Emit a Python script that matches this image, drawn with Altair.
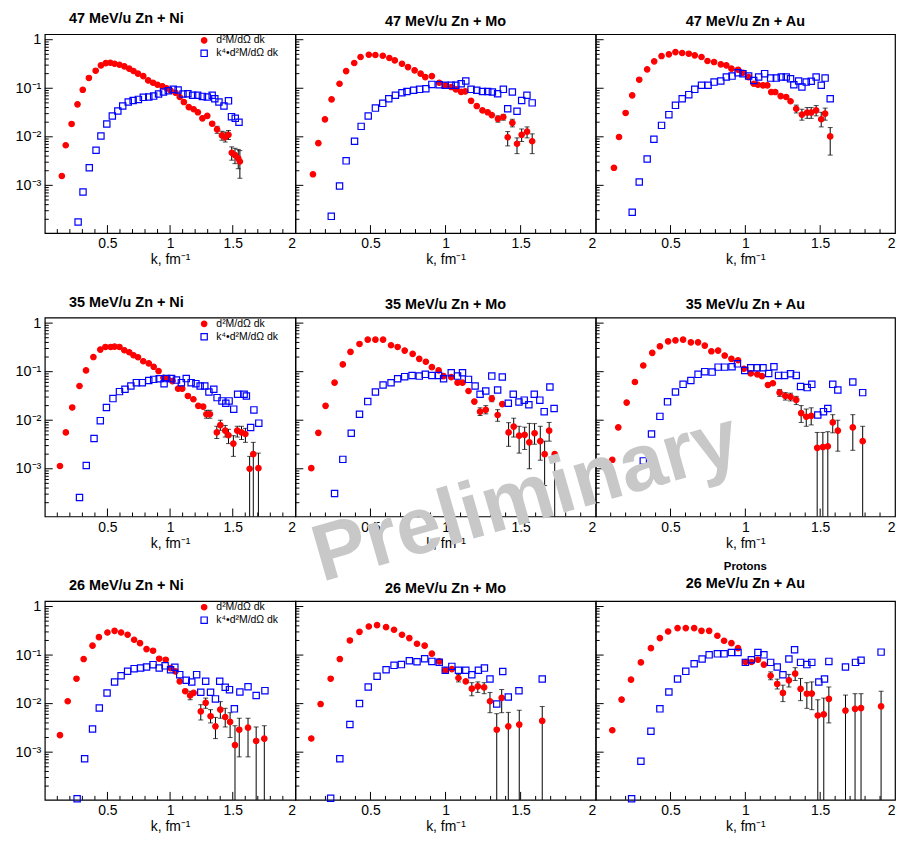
import altair as alt
import pandas as pd

FONT = "Liberation Sans"

# ---------------- data ----------------
SERIES = ["d²M/dΩ dk", "k⁴•d²M/dΩ dk"]
TITLES = ["47 MeV/u Zn + Ni", "47 MeV/u Zn + Mo", "47 MeV/u Zn + Au",
          "35 MeV/u Zn + Ni", "35 MeV/u Zn + Mo", "35 MeV/u Zn + Au",
          "26 MeV/u Zn + Ni", "26 MeV/u Zn + Mo", "26 MeV/u Zn + Au"]
X_LABELS = [0.5, 1, 1.5, 2]
Y_LABELS = [1, 0.1, 0.01, 0.001]
Y_LABEL_TEXT = ["1", "10⁻¹", "10⁻²", "10⁻³"]

# 47 MeV/u Zn + Ni
zn47ni_k_red = [0.136, 0.167, 0.214, 0.261, 0.303, 0.352, 0.406, 0.448, 0.487, 0.523, 0.557, 0.596, 0.635, 0.674, 0.708, 0.744, 0.786, 0.825, 0.864, 0.900, 0.939, 0.973, 1.004, 1.043, 1.077, 1.110, 1.149, 1.188, 1.222, 1.258, 1.297, 1.336, 1.375, 1.414, 1.440, 1.466, 1.492, 1.518, 1.544, 1.557]
zn47ni_red = [0.00156, 0.0067, 0.0184, 0.0467, 0.093, 0.163, 0.23, 0.296, 0.33, 0.335, 0.32, 0.305, 0.283, 0.253, 0.227, 0.2, 0.178, 0.145, 0.13, 0.118, 0.11, 0.1, 0.09, 0.081, 0.066, 0.052, 0.041, 0.037, 0.032, 0.024, 0.027, 0.0186, 0.0142, 0.0107, 0.0098, 0.011, 0.0047, 0.0042, 0.0036, 0.0031]
zn47ni_k_blue = [0.266, 0.305, 0.355, 0.409, 0.448, 0.495, 0.539, 0.583, 0.622, 0.666, 0.705, 0.747, 0.786, 0.830, 0.869, 0.908, 0.947, 0.986, 1.025, 1.064, 1.103, 1.142, 1.180, 1.220, 1.258, 1.297, 1.336, 1.357, 1.390, 1.430, 1.466, 1.490, 1.520, 1.550]
zn47ni_blue = [0.000176, 0.00073, 0.0023, 0.0053, 0.0104, 0.0184, 0.0268, 0.034, 0.043, 0.052, 0.056, 0.059, 0.065, 0.066, 0.069, 0.076, 0.084, 0.089, 0.095, 0.092, 0.076, 0.077, 0.072, 0.072, 0.068, 0.066, 0.072, 0.061, 0.052, 0.043, 0.055, 0.026, 0.024, 0.020]
zn47ni_err_k = [1.375, 1.414, 1.440, 1.466, 1.492, 1.518, 1.544, 1.557]
zn47ni_err_lo = [0.0118, 0.0085, 0.0078, 0.0088, 0.0033, 0.0028, 0.0022, 0.0014]
zn47ni_err_hi = [0.0165, 0.0130, 0.0125, 0.0135, 0.0062, 0.0058, 0.0055, 0.0052]

# 47 MeV/u Zn + Mo
zn47mo_k_red = [0.117, 0.153, 0.197, 0.241, 0.294, 0.338, 0.392, 0.434, 0.489, 0.533, 0.582, 0.626, 0.662, 0.710, 0.750, 0.794, 0.834, 0.865, 0.909, 0.958, 0.998, 1.038, 1.069, 1.104, 1.131, 1.170, 1.208, 1.246, 1.281, 1.308, 1.349, 1.385, 1.414, 1.445, 1.476, 1.507, 1.543, 1.577]
zn47mo_red = [0.00169, 0.0074, 0.0229, 0.059, 0.124, 0.226, 0.331, 0.44, 0.49, 0.484, 0.468, 0.42, 0.375, 0.32, 0.273, 0.234, 0.2, 0.17, 0.178, 0.13, 0.115, 0.106, 0.095, 0.084, 0.086, 0.055, 0.043, 0.035, 0.032, 0.028, 0.0235, 0.0256, 0.0098, 0.0194, 0.0072, 0.011, 0.0128, 0.0081]
zn47mo_k_blue = [0.239, 0.294, 0.338, 0.394, 0.438, 0.485, 0.533, 0.582, 0.622, 0.666, 0.710, 0.743, 0.788, 0.827, 0.869, 0.909, 0.958, 0.998, 1.038, 1.069, 1.104, 1.135, 1.170, 1.208, 1.246, 1.281, 1.312, 1.347, 1.385, 1.414, 1.445, 1.476, 1.507, 1.542, 1.577]
zn47mo_blue = [0.00023, 0.00097, 0.0032, 0.0081, 0.0164, 0.0268, 0.039, 0.0489, 0.061, 0.0716, 0.081, 0.086, 0.091, 0.095, 0.098, 0.12, 0.118, 0.115, 0.115, 0.115, 0.124, 0.141, 0.095, 0.091, 0.086, 0.086, 0.0836, 0.0773, 0.095, 0.0378, 0.0836, 0.0335, 0.056, 0.0716, 0.05]
zn47mo_err_k = [1.349, 1.385, 1.414, 1.445, 1.476, 1.507, 1.543, 1.577]
zn47mo_err_lo = [0.020, 0.022, 0.0065, 0.016, 0.0045, 0.008, 0.0095, 0.0045]
zn47mo_err_hi = [0.027, 0.029, 0.0128, 0.023, 0.0095, 0.0145, 0.016, 0.0115]

# 47 MeV/u Zn + Au
zn47au_k_red = [0.122, 0.156, 0.200, 0.244, 0.291, 0.344, 0.391, 0.440, 0.489, 0.533, 0.578, 0.622, 0.662, 0.707, 0.747, 0.791, 0.836, 0.873, 0.907, 0.951, 0.984, 1.022, 1.056, 1.084, 1.118, 1.147, 1.173, 1.200, 1.236, 1.273, 1.302, 1.340, 1.378, 1.413, 1.440, 1.473, 1.507, 1.533, 1.567]
zn47au_red = [0.0023, 0.0099, 0.031, 0.0714, 0.15, 0.245, 0.358, 0.461, 0.5, 0.557, 0.532, 0.515, 0.476, 0.44, 0.364, 0.347, 0.311, 0.297, 0.253, 0.241, 0.209, 0.17, 0.124, 0.118, 0.115, 0.115, 0.0836, 0.0836, 0.069, 0.066, 0.054, 0.0378, 0.0287, 0.0316, 0.0316, 0.035, 0.023, 0.03, 0.0102]
zn47au_k_blue = [0.244, 0.291, 0.344, 0.389, 0.440, 0.489, 0.533, 0.578, 0.622, 0.662, 0.707, 0.751, 0.791, 0.836, 0.873, 0.911, 0.951, 0.984, 1.022, 1.056, 1.089, 1.129, 1.169, 1.207, 1.240, 1.273, 1.302, 1.324, 1.356, 1.378, 1.407, 1.440, 1.473, 1.507, 1.533, 1.567]
zn47au_blue = [0.00028, 0.00117, 0.0035, 0.0089, 0.0172, 0.0286, 0.0445, 0.061, 0.0738, 0.095, 0.115, 0.115, 0.134, 0.141, 0.17, 0.178, 0.209, 0.2, 0.178, 0.145, 0.17, 0.2, 0.162, 0.162, 0.17, 0.17, 0.157, 0.118, 0.141, 0.106, 0.134, 0.139, 0.17, 0.115, 0.162, 0.061]
zn47au_err_k = [1.340, 1.378, 1.413, 1.440, 1.473, 1.507, 1.533, 1.567]
zn47au_err_lo = [0.031, 0.022, 0.024, 0.024, 0.027, 0.016, 0.022, 0.0042]
zn47au_err_hi = [0.045, 0.037, 0.040, 0.040, 0.044, 0.032, 0.039, 0.0155]

# 35 MeV/u Zn + Ni
zn35ni_k_red = [0.121, 0.168, 0.219, 0.277, 0.329, 0.388, 0.443, 0.484, 0.526, 0.557, 0.596, 0.635, 0.674, 0.708, 0.744, 0.786, 0.830, 0.869, 0.908, 0.947, 0.978, 1.019, 1.064, 1.097, 1.142, 1.186, 1.225, 1.264, 1.290, 1.318, 1.373, 1.401, 1.440, 1.466, 1.505, 1.536, 1.570, 1.601, 1.635, 1.664, 1.705]
zn35ni_red = [0.00114, 0.0056, 0.0183, 0.0507, 0.106, 0.2, 0.285, 0.323, 0.323, 0.328, 0.323, 0.276, 0.251, 0.218, 0.198, 0.164, 0.148, 0.126, 0.103, 0.075, 0.072, 0.064, 0.0446, 0.0446, 0.0316, 0.027, 0.0198, 0.019, 0.0133, 0.0133, 0.0056, 0.0079, 0.0061, 0.0049, 0.0033, 0.0061, 0.0056, 0.0052, 0.001, 0.002, 0.00103]
zn35ni_k_blue = [0.277, 0.331, 0.393, 0.443, 0.492, 0.544, 0.596, 0.640, 0.687, 0.731, 0.778, 0.830, 0.869, 0.913, 0.952, 0.973, 1.012, 1.051, 1.090, 1.129, 1.168, 1.206, 1.240, 1.277, 1.310, 1.349, 1.375, 1.414, 1.445, 1.471, 1.508, 1.539, 1.591, 1.609, 1.643, 1.669, 1.708]
zn35ni_blue = [0.000256, 0.00117, 0.0042, 0.0098, 0.0183, 0.0279, 0.0388, 0.0433, 0.0508, 0.0594, 0.0594, 0.066, 0.0694, 0.0717, 0.0566, 0.072, 0.072, 0.067, 0.0594, 0.072, 0.0594, 0.0566, 0.0508, 0.0508, 0.038, 0.0433, 0.0292, 0.025, 0.0223, 0.025, 0.0169, 0.0342, 0.0342, 0.0316, 0.0071, 0.0163, 0.0087]
zn35ni_err_k = [1.290, 1.318, 1.373, 1.401, 1.440, 1.466, 1.505, 1.536, 1.570, 1.601, 1.635, 1.664, 1.705]
zn35ni_err_lo = [0.011, 0.011, 0.0042, 0.0062, 0.0045, 0.0033, 0.0018, 0.0045, 0.004, 0.0035, 1e-5, 1e-5, 1e-5]
zn35ni_err_hi = [0.016, 0.016, 0.0075, 0.010, 0.0078, 0.0065, 0.0048, 0.0075, 0.0075, 0.0068, 0.0018, 0.0035, 0.0021]

# 35 MeV/u Zn + Mo
zn35mo_k_red = [0.106, 0.153, 0.201, 0.261, 0.316, 0.367, 0.427, 0.482, 0.533, 0.584, 0.637, 0.681, 0.728, 0.781, 0.825, 0.869, 0.909, 0.954, 0.987, 1.038, 1.080, 1.113, 1.153, 1.192, 1.230, 1.268, 1.308, 1.347, 1.378, 1.420, 1.454, 1.490, 1.527, 1.558, 1.593, 1.631, 1.660, 1.690, 1.727]
zn35mo_red = [0.00103, 0.0055, 0.0198, 0.0593, 0.141, 0.255, 0.372, 0.456, 0.456, 0.456, 0.35, 0.323, 0.272, 0.232, 0.184, 0.16, 0.124, 0.106, 0.081, 0.077, 0.0593, 0.0593, 0.04, 0.0242, 0.015, 0.0164, 0.0279, 0.0128, 0.0215, 0.0056, 0.0074, 0.0048, 0.005, 0.0035, 0.0054, 0.0037, 0.002, 0.0061, 0.002]
zn35mo_k_blue = [0.261, 0.316, 0.372, 0.427, 0.482, 0.533, 0.584, 0.637, 0.681, 0.728, 0.777, 0.825, 0.865, 0.909, 0.954, 0.987, 1.038, 1.080, 1.113, 1.153, 1.197, 1.230, 1.268, 1.308, 1.347, 1.378, 1.418, 1.451, 1.489, 1.524, 1.555, 1.591, 1.628, 1.657, 1.695, 1.723]
zn35mo_blue = [0.00031, 0.00156, 0.0054, 0.0133, 0.0242, 0.0382, 0.0531, 0.0593, 0.0716, 0.079, 0.0836, 0.081, 0.088, 0.0836, 0.0836, 0.0716, 0.095, 0.081, 0.095, 0.0694, 0.0508, 0.0342, 0.04, 0.081, 0.0418, 0.0774, 0.0223, 0.0342, 0.0238, 0.0259, 0.0208, 0.0342, 0.0259, 0.015, 0.0483, 0.0174]
zn35mo_err_k = [1.230, 1.268, 1.308, 1.347, 1.420, 1.454, 1.490, 1.527, 1.558, 1.593, 1.631, 1.660, 1.690, 1.727]
zn35mo_err_lo = [0.0125, 0.0135, 0.024, 0.0095, 0.0029, 0.0045, 0.0021, 0.0025, 0.001, 0.0032, 0.0015, 0.00045, 0.0037, 1e-5]
zn35mo_err_hi = [0.018, 0.020, 0.032, 0.0165, 0.0089, 0.011, 0.0075, 0.0072, 0.0086, 0.0085, 0.0075, 0.0037, 0.009, 0.0021]

# 35 MeV/u Zn + Au
zn35au_k_red = [0.111, 0.151, 0.207, 0.262, 0.318, 0.378, 0.429, 0.484, 0.533, 0.584, 0.636, 0.684, 0.729, 0.773, 0.818, 0.862, 0.907, 0.951, 0.991, 1.036, 1.080, 1.111, 1.151, 1.184, 1.229, 1.267, 1.302, 1.340, 1.373, 1.407, 1.440, 1.480, 1.518, 1.551, 1.584, 1.618, 1.718, 1.784]
zn35au_red = [0.00153, 0.0071, 0.0231, 0.0612, 0.134, 0.244, 0.333, 0.422, 0.442, 0.456, 0.402, 0.402, 0.344, 0.263, 0.272, 0.215, 0.184, 0.172, 0.115, 0.0921, 0.088, 0.081, 0.0532, 0.0577, 0.037, 0.0316, 0.0302, 0.0262, 0.014, 0.0118, 0.0123, 0.0027, 0.0028, 0.0029, 0.009, 0.0061, 0.0071, 0.0037]
zn35au_k_blue = [0.318, 0.373, 0.429, 0.480, 0.533, 0.584, 0.636, 0.684, 0.729, 0.778, 0.818, 0.862, 0.911, 0.947, 0.996, 1.036, 1.078, 1.118, 1.156, 1.191, 1.222, 1.262, 1.302, 1.340, 1.369, 1.413, 1.444, 1.484, 1.522, 1.551, 1.584, 1.618, 1.718, 1.784]
zn35au_blue = [0.00145, 0.0052, 0.012, 0.0239, 0.0382, 0.0548, 0.066, 0.088, 0.1, 0.098, 0.124, 0.124, 0.126, 0.145, 0.106, 0.12, 0.12, 0.12, 0.092, 0.126, 0.0838, 0.0838, 0.0905, 0.0838, 0.0493, 0.047, 0.0548, 0.0128, 0.015, 0.0174, 0.0548, 0.042, 0.0612, 0.037]
zn35au_err_k = [1.229, 1.267, 1.302, 1.340, 1.373, 1.407, 1.440, 1.480, 1.518, 1.551, 1.584, 1.618, 1.718, 1.784]
zn35au_err_lo = [0.031, 0.026, 0.025, 0.021, 0.009, 0.0075, 0.008, 1e-5, 1e-5, 1e-5, 0.0055, 0.0023, 0.0024, 1e-5]
zn35au_err_hi = [0.043, 0.037, 0.036, 0.031, 0.020, 0.017, 0.018, 0.0056, 0.0056, 0.0058, 0.013, 0.010, 0.013, 0.0075]

# 26 MeV/u Zn + Ni
zn26ni_k_red = [0.121, 0.183, 0.253, 0.310, 0.381, 0.432, 0.500, 0.557, 0.609, 0.661, 0.713, 0.760, 0.812, 0.864, 0.913, 0.965, 1.004, 1.043, 1.077, 1.121, 1.160, 1.188, 1.245, 1.284, 1.323, 1.362, 1.401, 1.440, 1.479, 1.518, 1.552, 1.622, 1.687, 1.752]
zn26ni_red = [0.00224, 0.0112, 0.0326, 0.0828, 0.156, 0.234, 0.292, 0.316, 0.292, 0.262, 0.207, 0.176, 0.133, 0.123, 0.0842, 0.0803, 0.054, 0.046, 0.0288, 0.018, 0.0147, 0.0166, 0.0069, 0.0104, 0.0055, 0.0034, 0.0075, 0.0053, 0.0042, 0.0014, 0.0029, 0.0032, 0.0017, 0.0019]
zn26ni_k_blue = [0.258, 0.318, 0.381, 0.435, 0.497, 0.557, 0.609, 0.661, 0.713, 0.765, 0.812, 0.864, 0.913, 0.960, 1.004, 1.038, 1.077, 1.129, 1.173, 1.212, 1.245, 1.284, 1.323, 1.362, 1.396, 1.440, 1.474, 1.513, 1.557, 1.622, 1.687, 1.757]
zn26ni_blue = [0.00011, 0.00073, 0.003, 0.0081, 0.0166, 0.0279, 0.0376, 0.0464, 0.0525, 0.054, 0.0568, 0.0635, 0.054, 0.06, 0.05, 0.056, 0.0395, 0.0302, 0.0279, 0.0395, 0.0171, 0.0288, 0.0171, 0.0125, 0.0288, 0.0217, 0.0194, 0.0078, 0.0174, 0.0222, 0.0147, 0.0185]
zn26ni_err_k = [1.160, 1.245, 1.284, 1.323, 1.362, 1.401, 1.440, 1.479, 1.518, 1.552, 1.622, 1.687, 1.752]
zn26ni_err_lo = [0.012, 0.0046, 0.008, 0.004, 0.0019, 0.005, 0.0033, 0.002, 1e-5, 0.0008, 0.0008, 1e-5, 1e-5]
zn26ni_err_hi = [0.018, 0.0095, 0.013, 0.0075, 0.0052, 0.011, 0.008, 0.0065, 0.0035, 0.005, 0.005, 0.0033, 0.0035]

# 26 MeV/u Zn + Mo
zn26mo_k_red = [0.106, 0.168, 0.235, 0.296, 0.363, 0.427, 0.489, 0.544, 0.604, 0.657, 0.710, 0.759, 0.810, 0.861, 0.909, 0.958, 0.998, 1.042, 1.086, 1.135, 1.175, 1.215, 1.257, 1.296, 1.341, 1.374, 1.418, 1.491, 1.644]
zn26mo_red = [0.00191, 0.0098, 0.0326, 0.0828, 0.2, 0.301, 0.388, 0.413, 0.376, 0.332, 0.262, 0.224, 0.171, 0.156, 0.107, 0.0741, 0.0485, 0.0514, 0.0337, 0.0287, 0.0203, 0.0226, 0.0216, 0.0112, 0.0029, 0.0131, 0.0034, 0.0037, 0.0044]
zn26mo_k_blue = [0.235, 0.296, 0.363, 0.427, 0.485, 0.544, 0.604, 0.657, 0.706, 0.759, 0.810, 0.861, 0.909, 0.958, 0.998, 1.042, 1.086, 1.135, 1.175, 1.219, 1.259, 1.296, 1.341, 1.381, 1.418, 1.489, 1.644]
zn26mo_blue = [0.000112, 0.00073, 0.0037, 0.01, 0.022, 0.0365, 0.05, 0.0614, 0.0636, 0.0764, 0.0731, 0.084, 0.0741, 0.071, 0.0485, 0.0585, 0.0485, 0.0485, 0.0394, 0.0485, 0.0539, 0.0322, 0.0098, 0.046, 0.0137, 0.0184, 0.0322]
zn26mo_err_k = [1.086, 1.175, 1.215, 1.257, 1.296, 1.341, 1.374, 1.418, 1.491, 1.644]
zn26mo_err_lo = [0.028, 0.0145, 0.017, 0.016, 0.0065, 1e-5, 0.0065, 1e-5, 1e-5, 1e-5]
zn26mo_err_hi = [0.040, 0.027, 0.028, 0.027, 0.017, 0.0062, 0.0195, 0.0066, 0.0073, 0.0087]

# 26 MeV/u Zn + Au
zn26au_k_red = [0.111, 0.173, 0.236, 0.302, 0.369, 0.429, 0.484, 0.547, 0.602, 0.658, 0.707, 0.758, 0.813, 0.858, 0.907, 0.951, 1.000, 1.040, 1.084, 1.124, 1.169, 1.213, 1.251, 1.291, 1.333, 1.369, 1.411, 1.444, 1.484, 1.524, 1.558, 1.669, 1.733, 1.773, 1.907]
zn26au_red = [0.00283, 0.0121, 0.0311, 0.0707, 0.139, 0.224, 0.306, 0.359, 0.359, 0.359, 0.316, 0.316, 0.25, 0.197, 0.176, 0.139, 0.0719, 0.0719, 0.0803, 0.0636, 0.0375, 0.0254, 0.0166, 0.0302, 0.0414, 0.0201, 0.016, 0.0161, 0.0057, 0.006, 0.0125, 0.0072, 0.0078, 0.0081, 0.0088]
zn26au_k_blue = [0.240, 0.302, 0.369, 0.429, 0.489, 0.547, 0.602, 0.658, 0.711, 0.758, 0.813, 0.858, 0.907, 0.951, 1.000, 1.040, 1.084, 1.124, 1.169, 1.213, 1.251, 1.291, 1.329, 1.369, 1.411, 1.444, 1.491, 1.529, 1.558, 1.669, 1.736, 1.773, 1.907]
zn26au_blue = [0.00011, 0.00065, 0.0027, 0.0078, 0.0174, 0.0321, 0.0462, 0.0664, 0.0829, 0.101, 0.106, 0.106, 0.113, 0.113, 0.0707, 0.0803, 0.113, 0.101, 0.0707, 0.0567, 0.0394, 0.0829, 0.129, 0.0707, 0.0636, 0.0707, 0.0279, 0.0321, 0.0741, 0.0567, 0.0707, 0.078, 0.115]
zn26au_err_k = [1.169, 1.213, 1.251, 1.291, 1.333, 1.369, 1.411, 1.444, 1.484, 1.524, 1.558, 1.669, 1.733, 1.773, 1.907]
zn26au_err_lo = [0.031, 0.020, 0.011, 0.022, 0.030, 0.0115, 0.008, 0.0075, 1e-5, 1e-5, 0.004, 1e-5, 1e-5, 1e-5, 1e-5]
zn26au_err_hi = [0.045, 0.032, 0.024, 0.040, 0.055, 0.033, 0.027, 0.028, 0.012, 0.013, 0.022, 0.015, 0.016, 0.016, 0.018]

PANEL_DATA = [
    (zn47ni_k_red, zn47ni_red, zn47ni_k_blue, zn47ni_blue, zn47ni_err_k, zn47ni_err_lo, zn47ni_err_hi),
    (zn47mo_k_red, zn47mo_red, zn47mo_k_blue, zn47mo_blue, zn47mo_err_k, zn47mo_err_lo, zn47mo_err_hi),
    (zn47au_k_red, zn47au_red, zn47au_k_blue, zn47au_blue, zn47au_err_k, zn47au_err_lo, zn47au_err_hi),
    (zn35ni_k_red, zn35ni_red, zn35ni_k_blue, zn35ni_blue, zn35ni_err_k, zn35ni_err_lo, zn35ni_err_hi),
    (zn35mo_k_red, zn35mo_red, zn35mo_k_blue, zn35mo_blue, zn35mo_err_k, zn35mo_err_lo, zn35mo_err_hi),
    (zn35au_k_red, zn35au_red, zn35au_k_blue, zn35au_blue, zn35au_err_k, zn35au_err_lo, zn35au_err_hi),
    (zn26ni_k_red, zn26ni_red, zn26ni_k_blue, zn26ni_blue, zn26ni_err_k, zn26ni_err_lo, zn26ni_err_hi),
    (zn26mo_k_red, zn26mo_red, zn26mo_k_blue, zn26mo_blue, zn26mo_err_k, zn26mo_err_lo, zn26mo_err_hi),
    (zn26au_k_red, zn26au_red, zn26au_k_blue, zn26au_blue, zn26au_err_k, zn26au_err_lo, zn26au_err_hi),
]

# ---------------- layout / style ----------------
X_DOMAIN = [0, 2]
Y_DOMAIN = [1.04e-4, 1.3]
PANEL_W = [252, 302, 301]
PANEL_H = 200
ROW_GAP = 85
TITLE_OFFSET = 5

Y_MAJOR = [0.001, 0.01, 0.1, 1]
Y_MINOR = [m * 10.0 ** e for e in range(-4, 0) for m in range(2, 10)]
X_MAJOR = [0.5, 1.0, 1.5]
X_MINOR = [i / 10 for i in range(1, 20) if i % 5 != 0]

label_expr = ""
for v, t in zip(Y_LABELS[:-1], Y_LABEL_TEXT[:-1]):
    label_expr += f"datum.value > {v / 2} ? '{t}' : "
label_expr += f"'{Y_LABEL_TEXT[-1]}'"


def panel(idx):
    row, col = divmod(idx, 3)
    k_red, v_red, k_blue, v_blue, e_k, e_lo, e_hi = PANEL_DATA[idx]
    w = PANEL_W[col]
    xs = alt.Scale(domain=X_DOMAIN, nice=False, zero=False)
    ys = alt.Scale(type="log", domain=Y_DOMAIN, nice=False)

    pts = pd.DataFrame({
        "k": k_red + k_blue,
        "v": v_red + v_blue,
        "series": [SERIES[0]] * len(k_red) + [SERIES[1]] * len(k_blue),
    })
    err = pd.DataFrame({"k": e_k, "lo": e_lo, "hi": e_hi})

    xaxis = alt.Axis(values=X_LABELS, format="~g", title="k, fm⁻¹", ticks=False, domain=False,
                     grid=False, labelPadding=4, titlePadding=2, labelFlush=True,
                     labelOverlap=False, labelFont=FONT, labelFontSize=14,
                     labelColor="black", titleFont=FONT, titleFontSize=14,
                     titleFontWeight="normal", titleColor="black")
    yaxis = alt.Axis(values=Y_LABELS, labelExpr=label_expr, ticks=False,
                     domain=False, grid=False, title=None, labelPadding=4,
                     labels=(col == 0), labelFont=FONT, labelFontSize=14.5,
                     labelColor="black")

    if col == 0:
        leg = alt.Legend(orient="none", legendX=155, legendY=1, title=None,
                         labelFont=FONT, labelFontSize=10.5, labelColor="black",
                         symbolStrokeWidth=1.2, rowPadding=1, padding=0,
                         labelOffset=7, labelLimit=300)
    else:
        leg = None

    X = lambda f: alt.X(f, scale=xs, axis=xaxis, title="k, fm⁻¹")
    Y = lambda f: alt.Y(f, scale=ys, axis=yaxis, title=None)

    tick_y_minor = alt.Chart(pd.DataFrame({"t": Y_MINOR})).mark_rule(
        color="black", strokeWidth=1).encode(
        y=Y("t:Q"), x=alt.value(0), x2=alt.value(4))
    tick_y_major = alt.Chart(pd.DataFrame({"t": Y_MAJOR})).mark_rule(
        color="black", strokeWidth=1).encode(
        y=Y("t:Q"), x=alt.value(0), x2=alt.value(8))
    tick_x_minor = alt.Chart(pd.DataFrame({"t": X_MINOR})).mark_rule(
        color="black", strokeWidth=1).encode(
        x=X("t:Q"), y=alt.value(PANEL_H), y2=alt.value(PANEL_H - 4))
    tick_x_major = alt.Chart(pd.DataFrame({"t": X_MAJOR})).mark_rule(
        color="black", strokeWidth=1).encode(
        x=X("t:Q"), y=alt.value(PANEL_H), y2=alt.value(PANEL_H - 8))

    err_rule = alt.Chart(err).mark_rule(color="black", strokeWidth=1, clip=True).encode(
        x=X("k:Q"), y=Y("lo:Q"), y2="hi:Q")
    err_cap = alt.Chart(err).transform_fold(["lo", "hi"], as_=["end", "ev"]).transform_filter(
        alt.datum.ev > Y_DOMAIN[0]).mark_tick(
        orient="horizontal", color="black", size=5, thickness=1).encode(
        x=X("k:Q"), y=Y("ev:Q"))

    points = alt.Chart(pts).mark_point(opacity=1, strokeWidth=1.2).encode(
        x=X("k:Q"), y=Y("v:Q"),
        shape=alt.Shape("series:N", scale=alt.Scale(domain=SERIES, range=["circle", "square"]), legend=leg),
        fill=alt.Fill("series:N", scale=alt.Scale(domain=SERIES, range=["#ff0000", "transparent"]), legend=leg),
        stroke=alt.Stroke("series:N", scale=alt.Scale(domain=SERIES, range=["#ff0000", "#0000ff"]), legend=leg),
        size=alt.Size("series:N", scale=alt.Scale(domain=SERIES, range=[30, 40]), legend=leg),
    )

    layers = [tick_y_minor, tick_y_major, tick_x_minor, tick_x_major, err_rule, err_cap, points]
    props = dict(width=w, height=PANEL_H)

    if idx == 8:
        # this panel carries the watermark, so its headings are text marks
        heads = alt.Chart(pd.DataFrame({"t": ["Protons", TITLES[idx]],
                                        "fs": [11.5, 14.5],
                                        "dy": [-34, -17]})).mark_text(
            font=FONT, fontWeight="bold", color="black",
            align="center", baseline="middle").encode(
            text="t:N", x=alt.value(w / 2),
            y=alt.Y("dy:Q", scale=None),
            size=alt.Size("fs:Q", scale=None, legend=None))
        watermark = alt.Chart(pd.DataFrame({"t": ["Preliminary"]})).mark_text(
            font=FONT, fontSize=81, fontWeight="bold", color="#c8c8c8",
            align="center", baseline="middle", angle=344).encode(
            text="t:N", x=alt.value(-70), y=alt.value(-103))
        layers += [heads, watermark]
    else:
        props["title"] = alt.TitleParams(
            TITLES[idx], font=FONT, fontSize=14.5, fontWeight="bold",
            color="black", anchor="middle", offset=TITLE_OFFSET, frame="group",
            dx=(-44 if col == 0 else 0))

    return alt.layer(*layers).properties(**props)


RES = dict(fill="independent", stroke="independent", shape="independent", size="independent")

chart = alt.concat(*[panel(i) for i in range(9)], columns=3,
                   spacing={"row": ROW_GAP, "column": 0},
                   bounds="flush", align="each").resolve_scale(**RES).properties(
    padding={"left": 6, "top": 0, "right": 0, "bottom": 0},
    background="white",
).configure_view(stroke="black", strokeWidth=1.2)

chart.save("out.html", embed_options={"renderer": "svg", "actions": False})
